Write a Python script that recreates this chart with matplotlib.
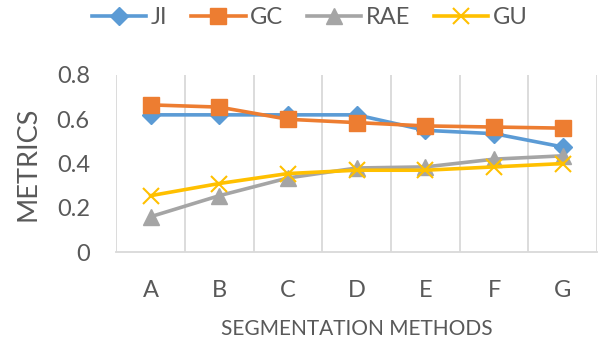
import numpy as np
import matplotlib.pyplot as plt

plt.rcParams['font.family'] = ['Lato', 'DejaVu Sans']

methods = ['A', 'B', 'C', 'D', 'E', 'F', 'G']
ji = [0.62, 0.62, 0.62, 0.62, 0.55, 0.535, 0.475]
gc = [0.665, 0.655, 0.60, 0.585, 0.57, 0.565, 0.56]
rae = [0.16, 0.255, 0.335, 0.38, 0.385, 0.42, 0.435]
gu = [0.255, 0.31, 0.355, 0.37, 0.37, 0.385, 0.40]

text_color = '#595959'
grid_color = '#d9d9d9'

fig = plt.figure(figsize=(6.02, 3.44), dpi=100)
ax = fig.add_axes([0.193, 0.267, 0.799, 0.515])

x = np.arange(len(methods))
ax.plot(x, ji, color='#5b9bd5', lw=2.6, marker='D', ms=9, label='JI')
ax.plot(x, gc, color='#ed7d31', lw=2.6, marker='s', ms=11, label='GC')
ax.plot(x, rae, color='#a5a5a5', lw=2.6, marker='^', ms=11, label='RAE')
ax.plot(x, gu, color='#ffc000', lw=2.6, marker='x', ms=11, mew=1.5, label='GU')

ax.set_xlim(-0.5, len(methods) - 0.5)
ax.set_ylim(0, 0.8)
ax.set_yticks([0, 0.2, 0.4, 0.6, 0.8])
ax.set_yticklabels(['0', '0.2', '0.4', '0.6', '0.8'])
ax.set_xticks(x)
ax.set_xticklabels(methods)
ax.set_xticks(np.arange(-0.5, len(methods)), minor=True)
ax.grid(which='minor', axis='x', color=grid_color, lw=1.3)
ax.tick_params(which='both', length=0)
ax.tick_params(axis='both', labelsize=17, colors=text_color)
ax.tick_params(axis='y', pad=19)
ax.tick_params(axis='x', pad=20)
for side in ['left', 'top', 'right']:
    ax.spines[side].set_visible(False)
ax.spines['bottom'].set_color(grid_color)
ax.spines['bottom'].set_linewidth(1.3)

ax.set_xlabel('SEGMENTATION METHODS', fontsize=15, color=text_color, labelpad=13)
ax.set_ylabel('METRICS', fontsize=19.5, color=text_color, labelpad=12)

fig.legend(loc='center', bbox_to_anchor=(0.515, 0.948), ncol=4, frameon=False,
           fontsize=17, labelcolor=text_color, handlelength=2.3, columnspacing=1.0,
           handletextpad=0.2)

fig.savefig('out.png', dpi=100)
